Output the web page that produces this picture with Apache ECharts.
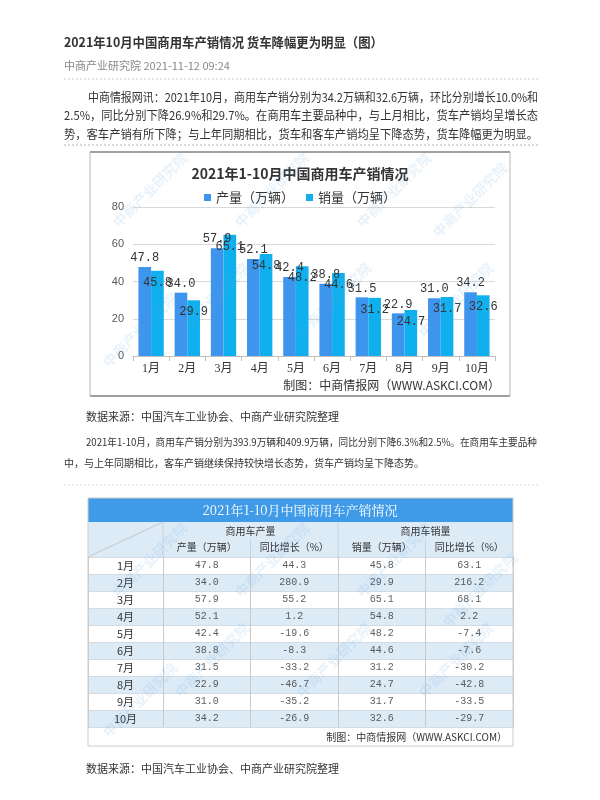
<!DOCTYPE html>
<html><head><meta charset="utf-8">
<script src="https://cdn.jsdelivr.net/npm/echarts@6/dist/echarts.min.js"></script>
<style>html,body{margin:0;padding:0;background:#fff}#c{width:600px;height:800px}</style>
</head><body><div id="c"></div>
<script>
// ---------- data ----------
const categories = ['1月','2月','3月','4月','5月','6月','7月','8月','9月','10月'];
const production = [47.8, 34.0, 57.9, 52.1, 42.4, 38.8, 31.5, 22.9, 31.0, 34.2];
const sales      = [45.8, 29.9, 65.1, 54.8, 48.2, 44.6, 31.2, 24.7, 31.7, 32.6];
const prodYoY    = [44.3, 280.9, 55.2, 1.2, -19.6, -8.3, -33.2, -46.7, -35.2, -26.9];
const salesYoY   = [63.1, 216.2, 68.1, 2.2, -7.4, -7.6, -30.2, -42.8, -33.5, -29.7];
const seriesNames = ['产量（万辆）', '销量（万辆）'];
const yMin = 0, yMax = 80, yInterval = 20;
const tableColumns = ['产量（万辆）', '同比增长（%）', '销量（万辆）', '同比增长（%）'];
const tableGroups = ['商用车产量', '商用车销量'];

const pageTitle = '2021年10月中国商用车产销情况 货车降幅更为明显（图）';
const byline = '中商产业研究院 2021-11-12 09:24';
const para1 = [
  '中商情报网讯：2021年10月，商用车产销分别为34.2万辆和32.6万辆，环比分别增长10.0%和',
  '2.5%，同比分别下降26.9%和29.7%。在商用车主要品种中，与上月相比，货车产销均呈增长态',
  '势，客车产销有所下降；与上年同期相比，货车和客车产销均呈下降态势，货车降幅更为明显。'
];
const sourceText = '数据来源：中国汽车工业协会、中商产业研究院整理';
const para2 = [
  '2021年1-10月，商用车产销分别为393.9万辆和409.9万辆，同比分别下降6.3%和2.5%。在商用车主要品种',
  '中，与上年同期相比，客车产销继续保持较快增长态势，货车产销均呈下降态势。'
];
const chartTitle = '2021年1-10月中国商用车产销情况';
const credit = '制图：中商情报网（WWW.ASKCI.COM）';
const watermark = '中商产业研究院';

// ---------- helpers ----------
const FONT = '"Noto Sans CJK SC", "Noto Sans", sans-serif';
const cv = document.createElement('canvas').getContext('2d');
function fitScale(text, font, target){ cv.font = font; const w = cv.measureText(text).width; return w > 0 ? target / w : 1; }
function txt(text, x, y, o){
  o = o || {};
  const font = (o.weight||'normal') + ' ' + (o.size||12) + 'px ' + (o.family||FONT);
  const el = {type:'text', x:x, y:y, z:o.z||5, silent:true,
    style:{text:text, font:font, fill:o.color||'#333', align:o.align||'left', verticalAlign:'middle',
           textAlign:o.align||'left', textVerticalAlign:'middle', opacity:o.opacity==null?1:o.opacity}};
  if (o.width){ el.scaleX = fitScale(text, font, o.width); }
  if (o.rotation){ el.rotation = o.rotation; }
  return el;
}
function line(x1,y1,x2,y2,stroke,dash,w){
  return {type:'line', silent:true, z:5, shape:{x1:x1,y1:y1,x2:x2,y2:y2},
    style:{stroke:stroke, lineWidth:w||1, lineDash:dash||null}};
}
function rect(x,y,w,h,fill,stroke,z){
  return {type:'rect', silent:true, z:z==null?-5:z, shape:{x:x,y:y,width:w,height:h},
    style:{fill:fill||'none', stroke:stroke||null, lineWidth:1}};
}

const g = [];
// page header
g.push(txt(pageTitle, 64, 42, {size:13, weight:'bold', color:'#333', width:319}));
g.push(txt(byline, 64, 66, {size:11, color:'#888'}));
g.push(line(64, 79, 538, 79, '#ccc', [2,2]));
para1.forEach((t,i)=> g.push(txt(t, i===0?88:64, 97 + i*18.5, {size:12, color:'#333', width: i===0?450:474})));
g.push(line(64, 145, 538, 145, '#ccc', [2,2], 1.5));

// chart frame
g.push(rect(90, 152, 420, 244, '#fff', '#b8b8b8', -10));
g.push(line(90, 152, 510, 152, '#a0a0a0', null, 2));
g.push(line(90, 396, 510, 396, '#a0a0a0', null, 2));
g.push(txt(credit, 500, 385, {size:12, color:'#333', align:'right'}));

// text between
g.push(txt(sourceText, 86, 417, {size:11, color:'#333'}));
g.push(txt(para2[0], 86, 442, {size:10, color:'#333', width:451}));
g.push(txt(para2[1], 64, 463, {size:10, color:'#333'}));
g.push(line(64, 485, 538, 485, '#ddd', [2,2]));

// table header
const TX = 88, TW = 425, TY = 498;
g.push(rect(TX, TY, TW, 24, '#3f9be8', null, -5));
g.push(txt(chartTitle, 300, 510, {size:13, color:'#fff', align:'center', family:'"Noto Serif CJK SC", ' + FONT}));
g.push(rect(TX, 522, TW, 35, '#ddebf7', null, -5));
g.push(txt(tableGroups[0], 250.5, 531, {size:10, color:'#333', align:'center'}));
g.push(txt(tableGroups[1], 425.5, 531, {size:10, color:'#333', align:'center'}));
g.push(line(163, 522, 163, 557, '#c8d3df'));
g.push(line(338, 522, 338, 557, '#c8d3df'));
g.push(line(250.5, 539, 250.5, 557, '#c8d3df'));
g.push(line(425.5, 539, 425.5, 557, '#c8d3df'));
g.push(line(TX, 557, 163, 522, '#c0c8d0'));
// footer
g.push(rect(TX, 727, TW, 19, '#fff', null, -5));
g.push(txt(credit, 507, 737, {size:10, color:'#333', align:'right'}));
g.push(rect(TX, TY, TW, 248, 'none', '#cccccc', 20));
g.push(txt(sourceText, 86, 769, {size:11, color:'#333'}));

// watermarks (decoration)
const wm = [[150,190],[272,190],[394,190],[212,300],[334,300],[456,300],[140,330],[470,200],
            [150,560],[272,560],[394,560],[212,660],[334,660],[456,660],[140,700],[480,590]];
wm.forEach(p => g.push(txt(watermark, p[0], p[1], {size:14, weight:'bold', color:'#5aa0dc', align:'center', opacity:0.14, rotation:Math.PI/4, z:30})));

// ---------- table scatter data (from arrays) ----------
const tableSeries = [production, prodYoY, sales, salesYoY].map((arr, j) => ({
  type:'scatter', xAxisIndex:2, yAxisIndex:2, symbolSize:0, silent:true, z:10,
  data: arr.map((v,i)=>[j, i, v]),
  label:{show:true, position:'inside', formatter:p=>p.data[2].toFixed(1),
         fontFamily:'"Liberation Mono", monospace', fontSize:10, color:'#333'}
}));

const chart = echarts.init(document.getElementById('c'), null, {renderer:'canvas'});
chart.setOption({
  animation:false,
  backgroundColor:'#fff',
  title:{text:chartTitle, left:'center', top:162,
    textStyle:{fontSize:14, fontWeight:'bold', color:'#333', fontFamily:FONT}},
  legend:{data:seriesNames, top:186, left:'center', icon:'rect', itemWidth:7, itemHeight:7, itemGap:12,
    textStyle:{fontSize:13, color:'#333', fontFamily:FONT}},
  grid:[
    {left:133, top:207, width:362, height:149, containLabel:false},
    {left:88, top:557, width:75, height:170},
    {left:163, top:557, width:350, height:170}
  ],
  xAxis:[
    {gridIndex:0, type:'category', data:categories,
     axisLine:{lineStyle:{color:'#bfbfbf'}}, axisTick:{show:true, length:5, lineStyle:{color:'#bfbfbf'}},
     axisLabel:{interval:0, fontSize:12, color:'#333', margin:7, fontFamily:'"Liberation Serif", ' + FONT}},
    {gridIndex:1, type:'category', data:[''], show:false},
    {gridIndex:2, type:'category', data:tableColumns, position:'top',
     axisLine:{show:false}, axisTick:{show:false},
     axisLabel:{interval:0, fontSize:10, color:'#333', margin:5, fontFamily:FONT},
     splitLine:{show:true, interval:0, lineStyle:{color:'#c9c9c9'}}}
  ],
  yAxis:[
    {gridIndex:0, type:'value', min:yMin, max:yMax, interval:yInterval,
     axisLine:{show:false}, axisTick:{show:false},
     axisLabel:{fontSize:11, color:'#595959', margin:9, fontFamily:'"Liberation Sans", sans-serif'},
     splitLine:{lineStyle:{color:'#d9d9d9'}}},
    {gridIndex:1, type:'category', data:categories, inverse:true,
     axisLine:{show:true, lineStyle:{color:'#cccccc'}}, axisTick:{show:false},
     axisLabel:{interval:0, align:'center', margin:-37.5, fontSize:11, color:'#333', fontFamily:FONT},
     splitLine:{show:true, interval:0, lineStyle:{color:'#d3dbe5'}},
     splitArea:{show:true, interval:0, areaStyle:{color:['#ffffff','#ddebf7']}}},
    {gridIndex:2, type:'category', data:categories, inverse:true,
     axisLine:{show:false}, axisTick:{show:false}, axisLabel:{show:false},
     splitLine:{show:true, interval:0, lineStyle:{color:'#d3dbe5'}},
     splitArea:{show:true, interval:0, areaStyle:{color:['#ffffff','#ddebf7']}}}
  ],
  series:[
    {name:seriesNames[0], type:'bar', xAxisIndex:0, yAxisIndex:0, data:production,
     barGap:'0%', barCategoryGap:'30%', itemStyle:{color:'#3d95ee'},
     label:{show:true, position:'top', distance:3, formatter:p=>p.value.toFixed(1),
            fontFamily:'"Liberation Mono", monospace', fontSize:12, color:'#333'}},
    {name:seriesNames[1], type:'bar', xAxisIndex:0, yAxisIndex:0, data:sales,
     itemStyle:{color:'#10b0ef'},
     label:{show:true, position:'insideTop', distance:6, formatter:p=>p.value.toFixed(1),
            fontFamily:'"Liberation Mono", monospace', fontSize:12, color:'#333'}}
  ].concat(tableSeries),
  graphic:{elements:g}
});
</script></body></html>
